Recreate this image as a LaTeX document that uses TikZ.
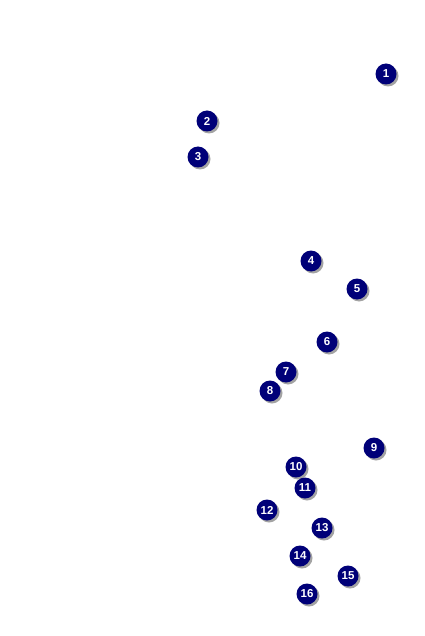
\documentclass[tikz,border=0pt]{standalone}
\usepackage{fontspec}
\setmainfont{Liberation Sans}
\usetikzlibrary{shadows}

\begin{document}
\begin{tikzpicture}[
    x=1pt, y=-1pt,
    marker/.style={circle, fill={rgb,255:red,0;green,0;blue,120}, minimum size=21pt, inner sep=0pt,
        text=white, font=\bfseries\fontsize{11.5}{11.5}\selectfont,
        drop shadow={shadow xshift=2pt, shadow yshift=-2pt, fill=black!45, opacity=0.8}}
]
\useasboundingbox (0,0) rectangle (424,636);
\node[marker] (m1) at (386,74) {1};
\node[marker] (m2) at (207,121) {2};
\node[marker] (m3) at (198,157) {3};
\node[marker] (m4) at (311,261) {4};
\node[marker] (m5) at (357,289) {5};
\node[marker] (m6) at (327,342) {6};
\node[marker] (m7) at (286,372) {7};
\node[marker] (m8) at (270,391) {8};
\node[marker] (m9) at (374,448) {9};
\node[marker] (m10) at (296,467) {10};
\node[marker] (m11) at (305,488) {11};
\node[marker] (m12) at (267,510) {12};
\node[marker] (m13) at (322,528) {13};
\node[marker] (m14) at (300,556) {14};
\node[marker] (m15) at (348,576) {15};
\node[marker] (m16) at (307,594) {16};
\end{tikzpicture}
\end{document}
